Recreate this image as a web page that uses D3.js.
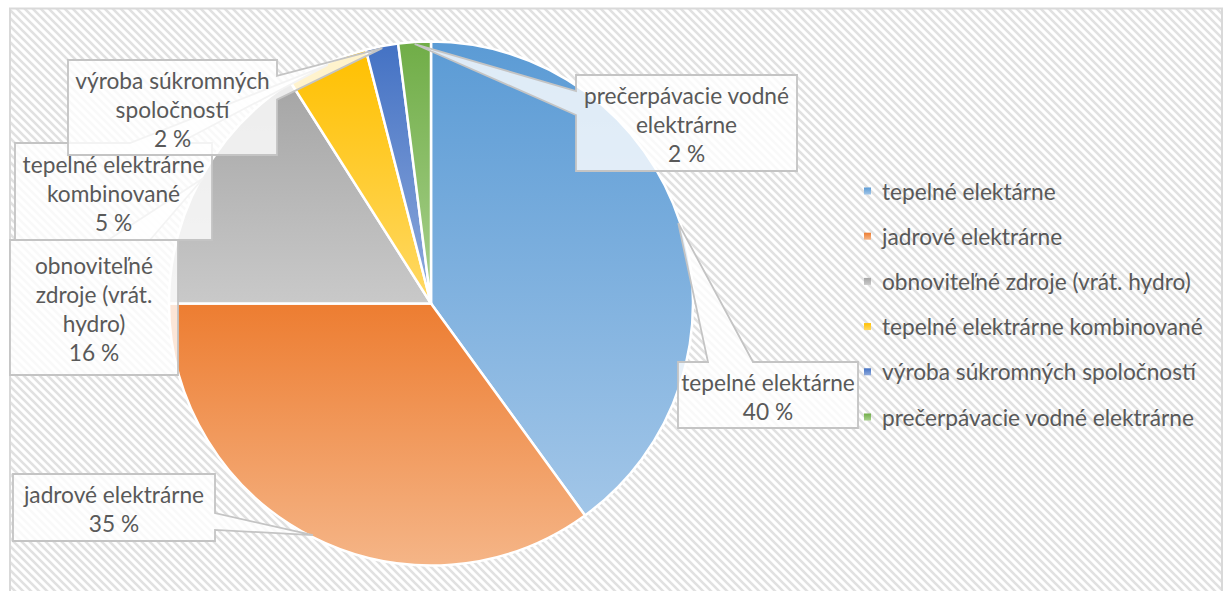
<!DOCTYPE html>
<html>
<head>
<meta charset="utf-8">
<script src="https://cdn.jsdelivr.net/npm/d3@7"></script>
<style>
  html, body { margin: 0; padding: 0; background: #fff; }
  svg { display: block; }
  text { font-family: Lato, "Noto Sans", sans-serif; fill: #595959; }
</style>
</head>
<body>
<svg id="chart" width="1225" height="591"></svg>
<script>
// ---- data ----
const categories = [
  "tepelné elektárne",
  "jadrové elektrárne",
  "obnoviteľné zdroje (vrát. hydro)",
  "tepelné elektrárne kombinované",
  "výroba súkromných spoločností",
  "prečerpávacie vodné elektrárne"
];
const values = [40, 35, 16, 5, 2, 2];
const labelNames = [
  ["tepelné elektárne"],
  ["jadrové elektrárne"],
  ["obnoviteľné", "zdroje (vrát.", "hydro)"],
  ["tepelné elektrárne", "kombinované"],
  ["výroba súkromných", "spoločností"],
  ["prečerpávacie vodné", "elektrárne"]
];
const baseColors  = ["#5B9BD5", "#ED7D31", "#A5A5A5", "#FFC000", "#4472C4", "#70AD47"];
const lightColors = ["#A2C6E8", "#F5B587", "#C9C9C9", "#FFD965", "#8FAADC", "#A9D18E"];

// ---- layout (label callout boxes, manually placed like in the original) ----
const labelBoxes = [
  { x: 678, y: 362, w: 180, h: 66 },
  { x: 13,  y: 474, w: 202, h: 67 },
  { x: 10,  y: 240, w: 168, h: 135 },
  { x: 15,  y: 143, w: 197, h: 97 },
  { x: 68,  y: 60,  w: 209, h: 95 },
  { x: 576, y: 75,  w: 221, h: 96 }
];

const W = 1225, H = 591;
const cx = 431, cy = 303.5, R = 262;
const fontSize = 22.7, lineH = 29;

const svg = d3.select("#chart");
const defs = svg.append("defs");

// hatch background pattern
const pat = defs.append("pattern").attr("id", "hatch")
  .attr("patternUnits", "userSpaceOnUse").attr("width", 8).attr("height", 8);
pat.append("rect").attr("width", 8).attr("height", 8).attr("fill", "#ffffff");
pat.append("path").attr("d", "M-2,-2 L10,10 M-2,6 L2,10 M6,-2 L10,2")
  .attr("stroke", "#e1e1e1").attr("stroke-width", 2.6);

// gradients
categories.forEach((c, i) => {
  const g = defs.append("linearGradient").attr("id", "grad" + i)
    .attr("x1", 0).attr("y1", 0).attr("x2", 0).attr("y2", 1);
  g.append("stop").attr("offset", "0%").attr("stop-color", baseColors[i]);
  g.append("stop").attr("offset", "100%").attr("stop-color", lightColors[i]);
});

// chart area
svg.append("rect").attr("x", 10).attr("y", 8.5).attr("width", 1212).attr("height", 600)
  .attr("fill", "url(#hatch)").attr("stroke", "#d9d9d9").attr("stroke-width", 2);

// pie
const pie = d3.pie().sort(null).value(d => d)(values);
const arc = d3.arc().innerRadius(0).outerRadius(R);
const edgeArc = d3.arc().innerRadius(R - 2).outerRadius(R - 2);

const gPie = svg.append("g").attr("transform", `translate(${cx},${cy})`);
gPie.selectAll("path.slice").data(pie).join("path")
  .attr("class", "slice")
  .attr("d", arc)
  .attr("fill", (d, i) => `url(#grad${i})`)
  .attr("stroke", "#ffffff").attr("stroke-width", 2.5).attr("stroke-linejoin", "round");

// wedge rectangle callouts (Office geometry)
function calloutPath(b, tx, ty) {
  const l = b.x, t = b.y, r = b.x + b.w, btm = b.y + b.h;
  const hc = l + b.w / 2, vc = t + b.h / 2;
  const dx = tx - hc, dy = ty - vc;
  const dq = dx * b.h / b.w;
  const dz = Math.abs(dy) - Math.abs(dq);
  const x1 = l + b.w * (dx > 0 ? 7 : 2) / 12, x2 = l + b.w * (dx > 0 ? 10 : 5) / 12;
  const y1 = t + b.h * (dy > 0 ? 7 : 2) / 12, y2 = t + b.h * (dy > 0 ? 10 : 5) / 12;
  const p = d3.path();
  p.moveTo(l, t);
  if (dz > 0 && dy < 0) { p.lineTo(x1, t); p.lineTo(tx, ty); p.lineTo(x2, t); }
  p.lineTo(r, t);
  if (dz <= 0 && dx > 0) { p.lineTo(r, y1); p.lineTo(tx, ty); p.lineTo(r, y2); }
  p.lineTo(r, btm);
  if (dz > 0 && dy > 0) { p.lineTo(x2, btm); p.lineTo(tx, ty); p.lineTo(x1, btm); }
  p.lineTo(l, btm);
  if (dz <= 0 && dx < 0) { p.lineTo(l, y2); p.lineTo(tx, ty); p.lineTo(l, y1); }
  p.closePath();
  return p.toString();
}

const gLabels = svg.append("g");
pie.forEach((d, i) => {
  const b = labelBoxes[i];
  const [px, py] = edgeArc.centroid(d);
  const tx = cx + px, ty = cy + py;
  const g = gLabels.append("g");
  g.append("path").attr("d", calloutPath(b, tx, ty))
    .attr("fill", "#ffffff").attr("fill-opacity", 0.8)
    .attr("stroke", "#c4c4c4").attr("stroke-width", 1.8).attr("stroke-linejoin", "miter");
  const lines = labelNames[i].concat([values[i] + " %"]);
  const n = lines.length;
  const midY = b.y + b.h / 2 + 1.5;
  g.selectAll("text").data(lines).join("text")
    .attr("x", b.x + b.w / 2)
    .attr("y", (t, k) => midY + (k - (n - 1) / 2) * lineH)
    .attr("text-anchor", "middle").attr("dominant-baseline", "central")
    .attr("font-size", fontSize)
    .text(t => t);
});

// legend
const legendY = d3.scalePoint().domain(categories).range([191, 417]);
const gLeg = svg.append("g");
const items = gLeg.selectAll("g").data(categories).join("g")
  .attr("transform", c => `translate(864,${legendY(c)})`);
items.append("rect").attr("x", 0).attr("y", -3.5).attr("width", 7).attr("height", 7)
  .attr("fill", (c, i) => `url(#grad${i})`);
items.append("text").attr("x", 18).attr("y", 0).attr("dominant-baseline", "central")
  .attr("font-size", fontSize).text(c => c);
</script>
</body>
</html>
